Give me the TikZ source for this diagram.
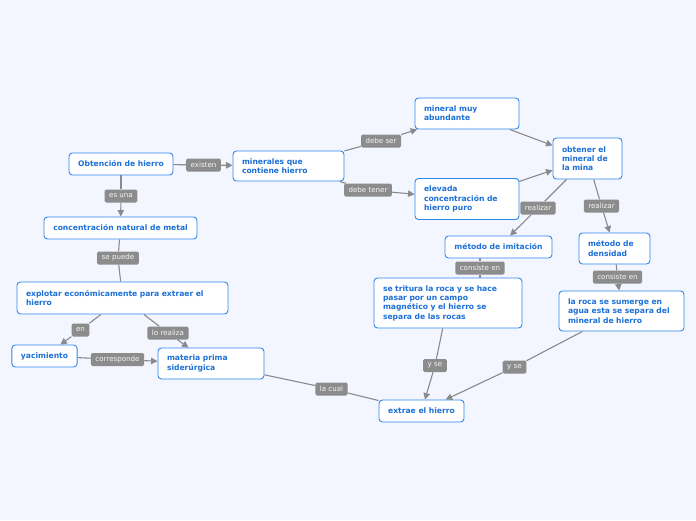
\documentclass[tikz,border=0pt]{standalone}
\usepackage{fontspec}
\setmainfont{DejaVu Sans}
\usetikzlibrary{positioning}
\usetikzlibrary{arrows.meta}
\definecolor{bgcol}{HTML}{F3F6FE}
\definecolor{boxline}{HTML}{2F86EB}
\definecolor{boxtext}{HTML}{1C6FD6}
\definecolor{tagfill}{HTML}{8C8C8C}
\definecolor{wire}{HTML}{8A8A8E}

\begin{document}
\begin{tikzpicture}[x=1pt, y=-1pt,
    concept/.style={draw=boxline, fill=white, rounded corners=3.5pt, line width=0.9pt,
        text=boxtext, font=\fontsize{7.6}{9.3}\selectfont\bfseries, inner xsep=9pt, inner ysep=2pt},
    single/.style={concept, align=center},
    multi/.style={concept, align=left},
    tag/.style={fill=tagfill, rounded corners=1.5pt, text=white!92!tagfill,
        font=\fontsize{7.1}{8}\selectfont, inner xsep=4.5pt, inner ysep=0pt, minimum height=13pt},
    link/.style={draw=wire, line width=1.1pt},
    flow/.style={link, -{Triangle[length=6.5pt, width=6.5pt]}}]

    \fill[bgcol] (0,0) rectangle (696,520);

    % concepts
    \node[single, minimum width=104pt, minimum height=22pt] (obtencion) at (121,164) {Obtención de hierro};
    \node[single, minimum width=153pt, minimum height=22pt] (concentracion) at (120.5,228) {concentración natural de metal};
    \node[multi, text width=93pt, minimum height=30pt] (minerales) at (288.5,166) {minerales que\\contiene hierro};
    \node[multi, text width=86pt, minimum height=31pt] (abundante) at (467,113.5) {mineral muy\\abundante};
    \node[multi, text width=86pt, minimum height=41pt] (elevada) at (467,199) {elevada\\concentración de\\hierro puro};
    \node[multi, text width=51pt, minimum height=41pt] (obtener) at (587.5,158.5) {obtener el\\mineral de\\la mina};
    \node[single, minimum width=107pt, minimum height=22pt] (imitacion) at (498.5,247) {método de imitación};
    \node[multi, text width=53pt, minimum height=31pt] (densidad) at (614.5,248.5) {método de\\densidad};
    \node[multi, text width=130pt, minimum height=50pt] (tritura) at (448,303) {se tritura la roca y se hace\\pasar por un campo\\magnético y el hierro se\\separa de las rocas};
    \node[multi, text width=107pt, minimum height=40pt] (sumerge) at (621.5,311) {la roca se sumerge en\\agua esta se separa del\\mineral de hierro};
    \node[multi, text width=193pt, minimum height=32pt] (explotar) at (122.5,298) {explotar económicamente para extraer el\\hierro};
    \node[single, minimum width=65pt, minimum height=22pt] (yacimiento) at (44.5,356) {yacimiento};
    \node[multi, text width=88pt, minimum height=31pt] (materia) at (211,363.5) {materia prima\\siderúrgica};
    \node[single, minimum width=85pt, minimum height=22pt] (extrae) at (421.5,411) {extrae el hierro};

    % labels
    \node[tag] (existen_l) at (203.5,165) {existen};
    \node[tag] (esuna_l) at (121,196) {es una};
    \node[tag] (sepuede_l) at (118,258) {se puede};
    \node[tag] (debeser_l) at (381,141) {debe ser};
    \node[tag] (debetener_l) at (368,190) {debe tener};
    \node[tag] (realizar_a_l) at (538,208) {realizar};
    \node[tag] (realizar_b_l) at (601.5,206) {realizar};
    \node[tag] (consiste_a_l) at (480,268) {consiste en};
    \node[tag] (consiste_b_l) at (617.5,277) {consiste en};
    \node[tag] (en_l) at (80.5,330) {en};
    \node[tag] (lorealiza_l) at (168,333) {lo realiza};
    \node[tag] (corresponde_l) at (117.5,359.5) {corresponde};
    \node[tag] (lacual_l) at (331.5,389) {la cual};
    \node[tag] (yse_a_l) at (435,365.5) {y se};
    \node[tag] (yse_b_l) at (514.5,367) {y se};

    % connectors
    \draw[link] (obtencion) -- (existen_l);
    \draw[flow] (existen_l) -- (minerales);
    \draw[link] (obtencion) -- (esuna_l);
    \draw[flow] (esuna_l) -- (concentracion);
    \draw[link] (concentracion) -- (sepuede_l);
    \draw[link] (sepuede_l) -- (explotar);
    \draw[link] (minerales) -- (debeser_l);
    \draw[flow] (debeser_l) -- (abundante);
    \draw[link] (minerales) -- (debetener_l);
    \draw[flow] (debetener_l) -- (elevada);
    \draw[flow] (abundante) -- (obtener);
    \draw[flow] (elevada) -- (obtener);
    \draw[link] (obtener) -- (realizar_a_l);
    \draw[flow] (realizar_a_l) -- (imitacion);
    \draw[link] (obtener) -- (realizar_b_l);
    \draw[flow] (realizar_b_l) -- (densidad);
    \draw[link] (imitacion.south -| consiste_a_l) -- (consiste_a_l);
    \draw[link] (consiste_a_l) -- (tritura.north -| consiste_a_l);
    \draw[link] (densidad) -- (consiste_b_l);
    \draw[flow] (consiste_b_l) -- (sumerge);
    \draw[link] (explotar) -- (en_l);
    \draw[flow] (en_l) -- (yacimiento);
    \draw[link] (explotar) -- (lorealiza_l);
    \draw[flow] (lorealiza_l) -- (materia);
    \draw[link] (yacimiento) -- (corresponde_l);
    \draw[flow] (corresponde_l) -- (materia);
    \draw[link] (materia) -- (lacual_l);
    \draw[link] (lacual_l) -- (extrae);
    \draw[link] (tritura) -- (yse_a_l);
    \draw[flow] (yse_a_l) -- (extrae);
    \draw[link] (sumerge) -- (yse_b_l);
    \draw[flow] (yse_b_l) -- (extrae);
\end{tikzpicture}
\end{document}
